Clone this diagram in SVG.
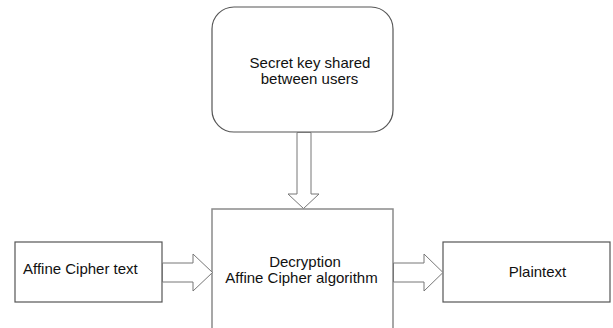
<svg xmlns="http://www.w3.org/2000/svg" width="613" height="328" viewBox="0 0 613 328">
<style>
.box{fill:#fff;stroke:#555;stroke-width:1.2}
.main{fill:#fff;stroke:#8a8a8a;stroke-width:1.5}
.arr{fill:#fff;stroke:#777;stroke-width:1}
text{font-family:"Liberation Sans",Arial,sans-serif;font-size:15px;fill:#111}
</style>
<rect width="613" height="328" fill="#fff"/>
<g id="key">
<rect class="box" x="212" y="7" width="181" height="125" rx="22" ry="22"/>
<text x="310" y="68" text-anchor="middle">Secret key shared</text>
<text x="309.5" y="84" text-anchor="middle">between users</text>
</g>
<g id="decryption">
<rect class="main" x="212" y="209" width="181" height="130"/>
<text x="305" y="267" text-anchor="middle">Decryption</text>
<text x="301.5" y="283" text-anchor="middle">Affine Cipher algorithm</text>
</g>
<g id="ciphertext">
<rect class="box" x="15" y="242" width="147" height="60"/>
<text x="23" y="274">Affine Cipher text</text>
</g>
<g id="plaintext">
<rect class="box" x="443" y="242" width="167" height="60"/>
<text x="537.5" y="277" text-anchor="middle">Plaintext</text>
</g>
<g id="connectors">
<polygon class="arr" points="297,132.5 311,132.5 311,194 319,194 303.5,208.5 288,194 297,194"/>
<polygon class="arr" points="162.5,263 193,263 193,254 212.5,272.5 193,291 193,282 162.5,282"/>
<polygon class="arr" points="393.5,263 424,263 424,254 443,272.5 424,291 424,282 393.5,282"/>
</g>
</svg>
